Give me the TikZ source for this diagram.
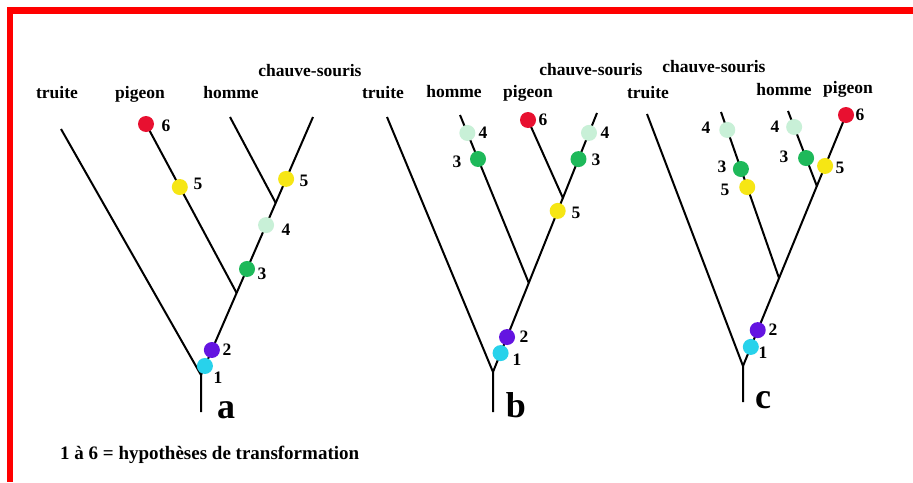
\documentclass[tikz,border=0pt]{standalone}
\usepackage{fontspec}
\setmainfont{Liberation Serif}
\usetikzlibrary{calc}

\definecolor{frame}{RGB}{255,0,0}
\definecolor{c1}{RGB}{40,210,235}
\definecolor{c2}{RGB}{100,20,225}
\definecolor{c3}{RGB}{30,185,90}
\definecolor{c4}{RGB}{200,240,215}
\definecolor{c5}{RGB}{246,230,20}
\definecolor{c6}{RGB}{232,16,48}

\begin{document}
\begin{tikzpicture}[x=1pt,y=-1pt,
  branch/.style={line width=2pt},
  dot/.style={circle, inner sep=0pt, minimum size=16pt, fill=#1},
  taxon/.style={font=\fontsize{17.5}{20}\selectfont\bfseries, anchor=base, inner sep=0pt},
  num/.style={font=\fontsize{17.5}{20}\selectfont\bfseries, inner sep=0pt},
  tag/.style={font=\fontsize{36}{40}\selectfont\bfseries, anchor=base, inner sep=0pt},
]
\useasboundingbox (0,0) rectangle (913,482);
\fill[white] (0,0) rectangle (913,482);
% red frame (top and left edges)
\fill[frame] (7.3,7.3) rectangle (913,14.3);
\fill[frame] (7.3,7.3) rectangle (13.3,482);

% ---------------- tree a ----------------
\coordinate (a0) at (201,375);
\coordinate (aS) at (201,412);
\coordinate (aTr) at (61,129);
\coordinate (aCs) at (313,117);
\coordinate (aJ1) at ($(a0)!0.318!(aCs)$);
\coordinate (aJ2) at ($(a0)!0.667!(aCs)$);
\coordinate (aHo) at (230,117);
\coordinate (aPi) at (146,124);
\draw[branch] (aS) -- (a0) -- (aTr);
\draw[branch] (a0) -- (aCs);
\draw[branch] (aJ1) -- (aPi);
\draw[branch] (aJ2) -- (aHo);
\node[dot=c6] (a6) at (aPi) {};
\node[dot=c5] (a5p) at ($(aJ1)!0.627!(aPi)$) {};
\node[dot=c5] (a5c) at ($(a0)!0.760!(aCs)$) {};
\node[dot=c4] (a4) at ($(a0)!0.581!(aCs)$) {};
\node[dot=c3] (a3) at ($(a0)!0.411!(aCs)$) {};
\node[dot=c2] (a2) at ($(a0)!0.097!(aCs)$) {};
\node[dot=c1] (a1) at ($(a0)!0.035!(aCs)$) {};
\node[num] (la6) at (166,126) {6};
\node[num] (la5p) at (198,184) {5};
\node[num] (la5c) at (304,181) {5};
\node[num] (la4) at (286,230) {4};
\node[num] (la3) at (262,274) {3};
\node[num] (la2) at (227,350) {2};
\node[num] (la1) at (218,378) {1};
\node[taxon] (taTr) at (57,98) {truite};
\node[taxon] (taPi) at (140,98) {pigeon};
\node[taxon] (taHo) at (231,98) {homme};
\node[taxon] (taCs) at (310,76) {chauve-souris};
\node[tag] (ta) at (226,418) {a};

% ---------------- tree b ----------------
\coordinate (b0) at (493,372);
\coordinate (bS) at (493,412);
\coordinate (bTr) at (387,117);
\coordinate (bCs) at (597,113);
\coordinate (bJ1) at ($(b0)!0.344!(bCs)$);
\coordinate (bJ2) at ($(b0)!0.672!(bCs)$);
\coordinate (bHo) at (460,115);
\coordinate (bPi) at (528,120);
\draw[branch] (bS) -- (b0) -- (bTr);
\draw[branch] (b0) -- (bCs);
\draw[branch] (bJ1) -- (bHo);
\draw[branch] (bJ2) -- (bPi);
\node[dot=c6] (b6) at (bPi) {};
\node[dot=c4] (b4h) at ($(bJ1)!0.893!(bHo)$) {};
\node[dot=c3] (b3h) at ($(bJ1)!0.738!(bHo)$) {};
\node[dot=c4] (b4c) at ($(b0)!0.923!(bCs)$) {};
\node[dot=c3] (b3c) at ($(b0)!0.822!(bCs)$) {};
\node[dot=c5] (b5) at ($(b0)!0.622!(bCs)$) {};
\node[dot=c2] (b2) at ($(b0)!0.135!(bCs)$) {};
\node[dot=c1] (b1) at ($(b0)!0.073!(bCs)$) {};
\node[num] (lb6) at (543,120) {6};
\node[num] (lb4h) at (483,133) {4};
\node[num] (lb3h) at (457,162) {3};
\node[num] (lb4c) at (605,133) {4};
\node[num] (lb3c) at (596,160) {3};
\node[num] (lb5) at (576,213) {5};
\node[num] (lb2) at (524,337) {2};
\node[num] (lb1) at (517,360) {1};
\node[taxon] (tbTr) at (383,98) {truite};
\node[taxon] (tbHo) at (454,97) {homme};
\node[taxon] (tbPi) at (528,97) {pigeon};
\node[taxon] (tbCs) at (591,75) {chauve-souris};
\node[tag] (tb) at (516,417) {b};

% ---------------- tree c ----------------
\coordinate (c0) at (743,366);
\coordinate (cS) at (743,402);
\coordinate (cTr) at (647,114);
\coordinate (cPi) at (846,115);
\coordinate (cJ1) at ($(c0)!0.35!(cPi)$);
\coordinate (cJ2) at ($(c0)!0.717!(cPi)$);
\coordinate (cCs) at (721,112);
\coordinate (cHo) at (788,111);
\draw[branch] (cS) -- (c0) -- (cTr);
\draw[branch] (c0) -- (cPi);
\draw[branch] (cJ1) -- (cCs);
\draw[branch] (cJ2) -- (cHo);
\node[dot=c6] (c6) at (cPi) {};
\node[dot=c5] (c5r) at ($(c0)!0.797!(cPi)$) {};
\node[dot=c2] (c2) at ($(c0)!0.143!(cPi)$) {};
\node[dot=c1] (c1) at ($(c0)!0.076!(cPi)$) {};
\node[dot=c4] (c4l) at ($(cJ1)!0.892!(cCs)$) {};
\node[dot=c3] (c3l) at ($(cJ1)!0.657!(cCs)$) {};
\node[dot=c5] (c5l) at ($(cJ1)!0.548!(cCs)$) {};
\node[dot=c4] (c4h) at ($(cJ2)!0.787!(cHo)$) {};
\node[dot=c3] (c3h) at ($(cJ2)!0.373!(cHo)$) {};
\node[num] (lc6) at (860,115) {6};
\node[num] (lc5r) at (840,168) {5};
\node[num] (lc4l) at (706,128) {4};
\node[num] (lc3l) at (722,167) {3};
\node[num] (lc5l) at (725,190) {5};
\node[num] (lc4h) at (775,127) {4};
\node[num] (lc3h) at (784,157) {3};
\node[num] (lc2) at (773,330) {2};
\node[num] (lc1) at (763,353) {1};
\node[taxon] (tcTr) at (648,98) {truite};
\node[taxon] (tcCs) at (714,72) {chauve-souris};
\node[taxon] (tcHo) at (784,95) {homme};
\node[taxon] (tcPi) at (848,93) {pigeon};
\node[tag] (tc) at (763,408) {c};

% legend
\node[font=\fontsize{19}{22}\selectfont\bfseries, anchor=base west, inner sep=0pt] (legend) at (60,459) {1 à 6 = hypothèses de transformation};
\end{tikzpicture}
\end{document}
